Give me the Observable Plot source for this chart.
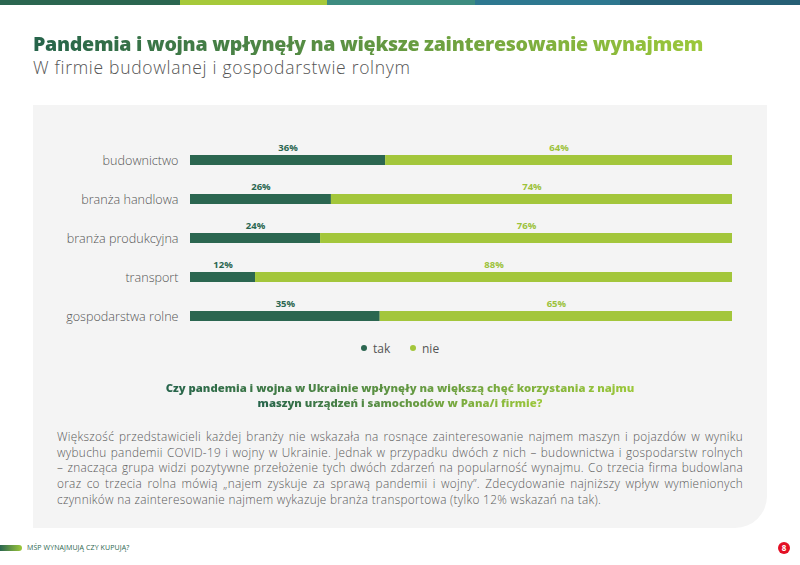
<!DOCTYPE html>
<html>
<head>
<meta charset="utf-8">
<script src="https://cdn.jsdelivr.net/npm/d3@7"></script>
<script src="https://cdn.jsdelivr.net/npm/@observablehq/plot@0.6"></script>
<style>
  html, body { margin: 0; padding: 0; background: #fff; }
  body { width: 800px; height: 565px; position: relative; overflow: hidden; font-family: "Open Sans", "Noto Sans", sans-serif; }
  .abs { position: absolute; }
  .stripe { top: 0; height: 5px; }
  .grad { background: linear-gradient(90deg, #25634a 0%, #9cc83a 100%); -webkit-background-clip: text; background-clip: text; color: transparent; }
  #title { left: 33px; top: 33px; font-size: 19.6px; line-height: 22px; font-weight: 800; white-space: nowrap; letter-spacing: -0.3px; }
  #subtitle { left: 33px; top: 57px; font-size: 17.5px; line-height: 20px; font-weight: 300; color: #555; white-space: nowrap; letter-spacing: 0.7px; }
  #panel { left: 33px; top: 105px; width: 734px; height: 423px; background: #f4f4f4; border-bottom-right-radius: 32px; }
  #chart { left: 0; top: 120px; }
  #legend { top: 340px; left: 0; width: 800px; font-size: 12px; color: #555; }
  #legend span.item { position: absolute; top: 0; }
  #legend i { display: inline-block; width: 6px; height: 6px; border-radius: 50%; margin-right: 6px; vertical-align: 2px; }
  #question { left: 100px; width: 600px; top: 380px; text-align: center; font-size: 11.3px; font-weight: 800; line-height: 15px; }
  #question div { display: inline-block; }
  #para { left: 57px; width: 686px; top: 429px; font-size: 11.8px; line-height: 15.7px; color: #5a5a5a; font-weight: 300; letter-spacing: 0.3px; }
  #para div { text-align: justify; text-align-last: justify; white-space: nowrap; }
  #para div.last { text-align-last: left; }
  #footbar { left: 0; top: 545px; width: 22px; height: 6px; border-radius: 0 3px 3px 0; background: linear-gradient(90deg, #2b6650, #9cc83a); }
  #foottext { left: 27px; top: 543px; font-size: 7px; color: #2b6650; letter-spacing: 0.1px; }
  #page { left: 778px; top: 542px; width: 12px; height: 12px; border-radius: 50%; background: #e30f24; color: #fff; font-size: 8px; font-weight: 700; text-align: center; line-height: 12px; }
</style>
</head>
<body>
<div class="abs stripe" style="left:0;width:180px;background:#2b6650"></div>
<div class="abs stripe" style="left:180px;width:147px;background:#a6c93a"></div>
<div class="abs stripe" style="left:327px;width:148px;background:#3d8c80"></div>
<div class="abs stripe" style="left:475px;width:145px;background:#2e7890"></div>
<div class="abs stripe" style="left:620px;width:180px;background:#265f75"></div>

<div id="title" class="abs grad">Pandemia i wojna wpłynęły na większe zainteresowanie wynajmem</div>
<div id="subtitle" class="abs">W firmie budowlanej i gospodarstwie rolnym</div>
<div id="panel" class="abs"></div>
<div id="chart" class="abs"></div>
<div id="legend" class="abs"></div>
<div id="question" class="abs"></div>
<div id="para" class="abs"></div>
<div id="footbar" class="abs"></div>
<div id="foottext" class="abs">MŚP WYNAJMUJĄ CZY KUPUJĄ?</div>
<div id="page" class="abs">8</div>

<script>
// ---- data ----
const categories = ["budownictwo", "branża handlowa", "branża produkcyjna", "transport", "gospodarstwa rolne"];
const tak = [36, 26, 24, 12, 35];
const nie = [64, 74, 76, 88, 65];
const responses = ["tak", "nie"];
const responseColors = ["#2b6650", "#a3c63b"];
const questionLines = [
  "Czy pandemia i wojna w Ukrainie wpłynęły na większą chęć korzystania z najmu",
  "maszyn urządzeń i samochodów w Pana/i firmie?"
];
const paragraphLines = [
  "Większość przedstawicieli każdej branży nie wskazała na rosnące zainteresowanie najmem maszyn i pojazdów w wyniku",
  "wybuchu pandemii COVID-19 i wojny w Ukrainie. Jednak w przypadku dwóch z nich – budownictwa i gospodarstw rolnych",
  "– znacząca grupa widzi pozytywne przełożenie tych dwóch zdarzeń na popularność wynajmu. Co trzecia firma budowlana",
  "oraz co trzecia rolna mówią „najem zyskuje za sprawą pandemii i wojny”. Zdecydowanie najniższy wpływ wymienionych",
  "czynników na zainteresowanie najmem wykazuje branża transportowa (tylko 12% wskazań na tak)."
];

const rows = [];
categories.forEach((c, i) => {
  rows.push({cat: c, resp: responses[0], value: tak[i]});
  rows.push({cat: c, resp: responses[1], value: nie[i]});
});

const chart = Plot.plot({
  width: 800,
  height: 221,
  marginLeft: 190,
  marginRight: 68,
  marginTop: 15.5,
  marginBottom: 0.5,
  style: {background: "transparent", fontFamily: "'Open Sans', sans-serif"},
  x: {domain: [0, 100], axis: null},
  y: {domain: categories, paddingInner: 29 / 39, paddingOuter: 0.5, align: 0.5, label: null},
  color: {domain: responses, range: responseColors},
  marks: [
    Plot.barX(rows, Plot.stackX({x: "value", y: "cat", fill: "resp", order: responses})),
    Plot.text(rows, Plot.stackX({
      x: "value", y: "cat", z: "resp", order: responses,
      text: d => d.value + "%",
      fill: d => d.resp === "tak" ? responseColors[0] : "#9cc23a",
      dy: -13, fontSize: 9.5, fontWeight: 700
    })),
    Plot.axisY({tickSize: 0, tickPadding: 12, fontSize: 12.6, fontWeight: 300, fill: "#555", label: null})
  ]
});
document.getElementById("chart").appendChild(chart);

// legend
const legend = document.getElementById("legend");
const legendX = [361, 410];
responses.forEach((r, i) => {
  const s = document.createElement("span");
  s.className = "item";
  s.style.left = legendX[i] + "px";
  s.innerHTML = `<i style="background:${responseColors[i]}"></i>${r}`;
  legend.appendChild(s);
});

// question
const q = document.getElementById("question");
questionLines.forEach(l => {
  const d = document.createElement("div");
  d.className = "grad";
  d.textContent = l;
  const w = document.createElement("div");
  w.style.display = "block";
  w.style.height = "15px";
  w.appendChild(d);
  q.appendChild(w);
});

// paragraph
const p = document.getElementById("para");
paragraphLines.forEach((l, i) => {
  const d = document.createElement("div");
  if (i === paragraphLines.length - 1) d.className = "last";
  d.textContent = l;
  p.appendChild(d);
});
</script>
</body>
</html>
